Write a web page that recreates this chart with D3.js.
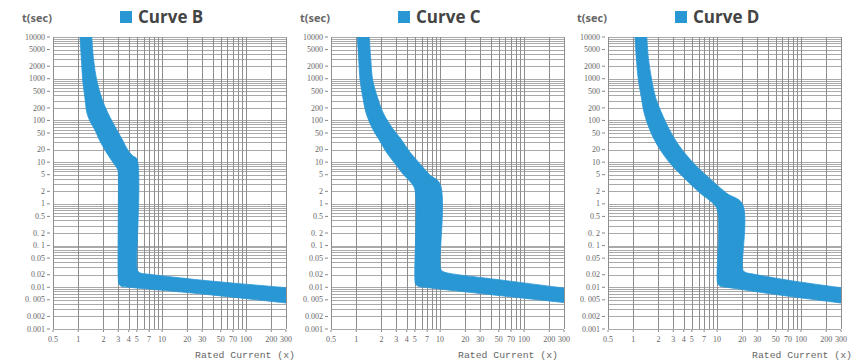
<!DOCTYPE html>
<html lang="en">
<head>
  <meta charset="UTF-8" />
  <title>MCB trip curves B, C, D</title>
  <script src="https://d3js.org/d3.v7.min.js"></script>
  <style>
    body {
      margin: 0;
      background: #fff;
    }
    svg {
      display: block;
      background: #fff;
    }
    .ylab, .xlab {
      font-family: 'Liberation Serif', 'DejaVu Serif', serif;
      font-size: 8px;
      fill: #666;
    }
    .axis-title {
      font-family: 'Liberation Mono', monospace;
      font-size: 9.8px;
      fill: #666;
    }
    .unit {
      font-family: 'Open Sans', sans-serif;
      font-size: 11px;
      font-weight: bold;
      fill: #666;
    }
    .curve-name {
      font-family: 'Open Sans', sans-serif;
      font-size: 17px;
      font-weight: bold;
      fill: #444;
    }
  </style>
</head>
<body>
  <svg id="chart" width="861" height="361"></svg>

  <script>
    // Tick values / labels
    const xTickValues = [0.5, 1, 2, 3, 4, 5, 7, 10, 20, 30, 50, 70, 100, 200, 300];
    const xGridValues = [1, 2, 3, 4, 5, 6, 7, 8, 9, 10, 20, 30, 40, 50, 60, 70, 80, 90, 100, 200, 300];
    const yTickValues = [10000, 5000, 2000, 1000, 500, 200, 100, 50, 20, 10, 5, 2, 1,
      0.5, 0.2, 0.1, 0.05, 0.02, 0.01, 0.005, 0.002, 0.001];
    const yTickLabels = ["10000", "5000", "2000", "1000", "500", "200", "100", "50", "20", "10", "5", "2", "1",
      "0.5", "0. 2", "0. 1", "0.05", "0.02", "0.01", "0. 005", "0.002", "0.001"];

    const curveNames = ["Curve B", "Curve C", "Curve D"];

    // [multiple of rated current, seconds] — lower (fast) edge of the band, top to bottom then right
    const curveBLower = [[1.05, 10000], [1.09, 3000], [1.13, 930], [1.2, 350], [1.27, 150], [1.4, 90], [1.58, 59],
      [1.8, 33], [2.08, 19.5], [2.5, 11], [2.97, 6.5], [3, 5.5], [3, 0.016], [3.05, 0.012], [3.3, 0.0104],
      [4, 0.0100], [30, 0.0069], [300, 0.0042]];
    // upper (slow) edge
    const curveBUpper = [[1.45, 10000], [1.52, 3000], [1.66, 930], [1.9, 350], [2.26, 150], [2.89, 59], [3.4, 33],
      [3.9, 19.5], [4.5, 14], [5, 12], [5, 0.032], [5.1, 0.025], [5.5, 0.022], [7, 0.0205], [30, 0.0148], [300, 0.0098]];

    const curveCLower = [[1.03, 10000], [1.07, 3000], [1.11, 930], [1.2, 350], [1.31, 150], [1.55, 65], [1.88, 34],
      [2.3, 17], [2.89, 9.3], [3.6, 5.2], [4.57, 3.1], [5, 2.2], [5, 0.016], [5.1, 0.012], [5.5, 0.0105],
      [6.5, 0.0100], [30, 0.0071], [300, 0.0043]];
    const curveCUpper = [[1.43, 10000], [1.49, 3000], [1.57, 930], [1.8, 350], [2.1, 150], [2.7, 65], [3.47, 34],
      [4.4, 17], [5.7, 9.3], [7.5, 5], [10, 3], [10, 0.035], [10.3, 0.026], [11, 0.0235], [13, 0.0215],
      [50, 0.0152], [300, 0.0096]];

    const curveDLower = [[1.05, 10000], [1.09, 3000], [1.15, 930], [1.25, 350], [1.35, 150], [1.6, 55], [1.99, 23.4],
      [2.8, 9], [4.3, 3.7], [6.3, 1.8], [8.6, 1.1], [10, 0.75], [10, 0.016], [10.2, 0.012], [11, 0.0105],
      [13, 0.0100], [50, 0.0067], [300, 0.0042]];
    const curveDUpper = [[1.45, 10000], [1.52, 3000], [1.66, 930], [1.85, 350], [2.18, 150], [2.7, 60], [3.6, 23.4],
      [5.5, 8.5], [8.6, 3.7], [13, 1.8], [20, 1.0], [20, 0.032], [20.5, 0.025], [22, 0.0225], [26, 0.021],
      [80, 0.0142], [300, 0.0098]];

    const panels = [
      { name: curveNames[0], lower: curveBLower, upper: curveBUpper, left: 53, titleDx: 142 },
      { name: curveNames[1], lower: curveCLower, upper: curveCUpper, left: 331, titleDx: 127 },
      { name: curveNames[2], lower: curveDLower, upper: curveDUpper, left: 608, titleDx: 144 }
    ];

    const plotW = 233;
    const plotTop = 37, plotBottom = 329;
    const blue = "#2a97d5";

    const svg = d3.select("#chart");

    const x = d3.scaleLog().domain([0.5, 300]).range([0, plotW]);
    const y = d3.scaleLog().domain([0.001, 10000]).range([plotBottom, plotTop]);

    // every 1..9 x decade for the horizontal grid
    const yGridValues = [];
    for (let e = -3; e <= 3; e++) {
      for (let k = 1; k <= 9; k++) yGridValues.push(k * Math.pow(10, e));
    }
    yGridValues.push(10000);

    const line = d3.line()
      .x(d => x(d[0]))
      .y(d => y(d[1]))
      .curve(d3.curveCatmullRom.alpha(0.5));

    panels.forEach((p, i) => {
      const g = svg.append("g").attr("transform", `translate(${p.left},0)`);

      // clip for the band
      svg.append("clipPath")
        .attr("id", "clip" + i)
        .append("rect")
        .attr("x", 0).attr("y", plotTop)
        .attr("width", plotW).attr("height", plotBottom - plotTop);

      // horizontal grid
      g.selectAll(".hgrid")
        .data(yGridValues)
        .enter()
        .append("line")
        .attr("x1", 0)
        .attr("x2", plotW)
        .attr("y1", d => Math.round(y(d)) + 0.5)
        .attr("y2", d => Math.round(y(d)) + 0.5)
        .attr("stroke", "#a9a9a9")
        .attr("stroke-width", 1);

      // vertical grid
      g.selectAll(".vgrid")
        .data([0.5].concat(xGridValues))
        .enter()
        .append("line")
        .attr("x1", d => Math.round(x(d)) + 0.5)
        .attr("x2", d => Math.round(x(d)) + 0.5)
        .attr("y1", plotTop)
        .attr("y2", plotBottom)
        .attr("stroke", "#8e8e8e")
        .attr("stroke-width", 1);

      // the trip band: lower edge, then upper edge back to the top
      const upperRev = p.upper.slice().reverse();
      const pathStr = line(p.lower) + "L" + line(upperRev).slice(1) + "Z";
      g.append("path")
        .attr("d", pathStr)
        .attr("fill", blue)
        .attr("stroke", blue)
        .attr("stroke-width", 0.8)
        .attr("stroke-linejoin", "round")
        .attr("clip-path", `url(#clip${i})`);

      // y ticks
      g.selectAll(".ytick")
        .data(yTickValues)
        .enter()
        .append("line")
        .attr("x1", -6).attr("x2", -3)
        .attr("y1", d => y(d)).attr("y2", d => y(d))
        .attr("stroke", "#888");

      g.selectAll(".ylab")
        .data(yTickValues)
        .enter()
        .append("text")
        .attr("class", "ylab")
        .attr("x", -8)
        .attr("y", d => y(d))
        .attr("dy", "0.33em")
        .attr("text-anchor", "end")
        .text((d, j) => yTickLabels[j]);

      // x ticks
      g.selectAll(".xtick")
        .data(xTickValues)
        .enter()
        .append("line")
        .attr("x1", d => x(d)).attr("x2", d => x(d))
        .attr("y1", plotBottom + 1).attr("y2", plotBottom + 3)
        .attr("stroke", "#888");

      g.selectAll(".xlab")
        .data(xTickValues)
        .enter()
        .append("text")
        .attr("class", "xlab")
        .attr("x", d => x(d))
        .attr("y", plotBottom + 13)
        .attr("text-anchor", "middle")
        .text(d => d);

      g.append("text")
        .attr("class", "axis-title")
        .attr("x", p.titleDx)
        .attr("y", 358)
        .text("Rated Current (x)");

      // header: unit + legend swatch + name
      g.append("text")
        .attr("class", "unit")
        .attr("x", -31)
        .attr("y", 22)
        .text("t(sec)");

      g.append("rect")
        .attr("x", 67).attr("y", 11)
        .attr("width", 12).attr("height", 12)
        .attr("fill", blue);

      g.append("text")
        .attr("class", "curve-name")
        .attr("x", 85)
        .attr("y", 23)
        .text(p.name);
    });
  </script>
</body>
</html>
